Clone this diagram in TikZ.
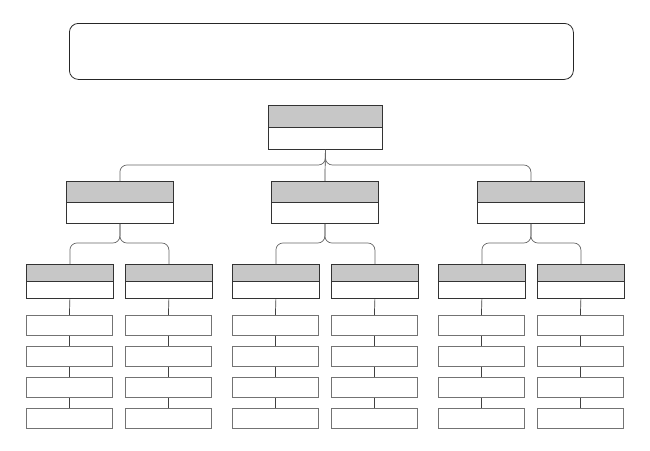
\documentclass[tikz,border=0pt]{standalone}
\begin{document}
\begin{tikzpicture}[x=1pt,y=-1pt,
  hd/.style={draw=black!80,fill=black!22,line width=0.8pt,inner sep=0,anchor=north west},
  bd/.style={draw=black!80,fill=white,line width=0.8pt,inner sep=0,anchor=north west},
  sm/.style={draw=black!55,fill=white,line width=0.8pt,inner sep=0,anchor=north west,minimum width=86pt,minimum height=20pt},
  ln/.style={draw=black!75,line width=0.7pt},
  br/.style={draw=black!60,line width=0.7pt,rounded corners=7pt}]
\useasboundingbox (0,0) rectangle (650,450);
\node[draw=black!85,line width=0.8pt,rounded corners=9pt,minimum width=504pt,minimum height=56pt,anchor=north west] (banner) at (69,23) {};
% top
\node[hd,minimum width=114pt,minimum height=22pt] (th) at (268,105) {};
\node[bd,minimum width=114pt,minimum height=22pt] (tb) at (268,127) {};
% level 2
\foreach \i/\x in {1/66,2/271,3/477}{
  \node[hd,minimum width=107pt,minimum height=21pt] (h\i) at (\x,181) {};
  \node[bd,minimum width=107pt,minimum height=21pt] (b\i) at (\x,202) {};
}
\draw[ln] (tb.south) -- (h2.north);
\draw[br] (tb.south) -- (tb.south |- 0,165) -- (h1.north |- 0,165) -- (h1.north);
\draw[br] (tb.south) -- (tb.south |- 0,165) -- (h3.north |- 0,165) -- (h3.north);
% level 3
\foreach \p/\a/\xa/\b/\xb in {1/1/26/2/125,2/3/232/4/331,3/5/438/6/537}{
  \foreach \j/\x in {\a/\xa,\b/\xb}{
    \node[hd,minimum width=87pt,minimum height=17pt] (c\j) at (\x,264) {};
    \node[bd,minimum width=87pt,minimum height=17pt] (d\j) at (\x,281) {};
    \foreach \k/\y in {1/315,2/346,3/377,4/408}{
      \node[sm] (s\j-\k) at (\x,\y) {};
    }
    \draw[ln] (d\j.south) -- (s\j-1.north);
    \draw[ln] (s\j-1.south) -- (s\j-2.north);
    \draw[ln] (s\j-2.south) -- (s\j-3.north);
    \draw[ln] (s\j-3.south) -- (s\j-4.north);
    \draw[br] (b\p.south) -- (b\p.south |- 0,243) -- (c\j.north |- 0,243) -- (c\j.north);
  }
}
\end{tikzpicture}
\end{document}
